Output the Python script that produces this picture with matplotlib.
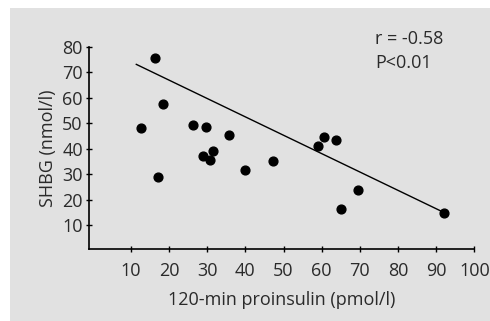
import matplotlib
matplotlib.use("Agg")
import matplotlib.pyplot as plt
from matplotlib.patches import Rectangle

# 120-min proinsulin (pmol/l) vs SHBG (nmol/l)
proinsulin = [16.2, 12.5, 18.5, 17.0, 26.2, 29.7, 28.9, 30.6, 31.6, 35.8,
              40.0, 47.2, 59.0, 60.6, 63.7, 65.0, 69.6, 92.1]
shbg = [75.8, 48.1, 57.5, 29.0, 49.3, 48.6, 37.1, 35.6, 39.3, 45.5,
        31.8, 35.1, 41.3, 44.6, 43.6, 16.3, 23.7, 15.0]

# regression line
fit_slope = -0.721
fit_intercept = 81.4
fit_x = [11.4, 92.1]

x_ticks = [10, 20, 30, 40, 50, 60, 70, 80, 90, 100]
y_ticks = [10, 20, 30, 40, 50, 60, 70, 80]

plt.rcParams["font.family"] = ["Open Sans", "DejaVu Sans"]
FS = 13
TXT = "#2a2a2a"

fig = plt.figure(figsize=(4.9, 3.21), dpi=100)
fig.patches.append(Rectangle((10 / 490, 0), 1, 1 - 8 / 321,
                             transform=fig.transFigure, facecolor="#e1e1e1",
                             edgecolor="none", zorder=-10))

ax = fig.add_axes([89 / 490, 1 - 249 / 321, (474.3 - 89) / 490, (249 - 47) / 321])
ax.set_facecolor("none")

ax.scatter(proinsulin, shbg, s=40, color="black", zorder=3)
ax.plot(fit_x, [fit_intercept + fit_slope * v for v in fit_x],
        color="black", linewidth=1.0)

ax.set_xlim(-1, 100)
ax.set_ylim(0.7, 80)
ax.set_xticks(x_ticks)
ax.set_yticks(y_ticks)

for side in ("top", "right"):
    ax.spines[side].set_visible(False)
for side in ("left", "bottom"):
    ax.spines[side].set_linewidth(1.2)

ax.tick_params(direction="inout", length=5, width=1, labelsize=FS,
               colors="black", labelcolor=TXT, pad=2)
ax.tick_params(axis="x", pad=7)

ax.set_xlabel("120-min proinsulin (pmol/l)", fontsize=FS, color=TXT,
              labelpad=8)
ax.set_ylabel("SHBG (nmol/l)", fontsize=FS, color=TXT, labelpad=4)

ax.text(375 / 490, 1 - 39 / 321, "r = -0.58", transform=fig.transFigure,
        fontsize=FS, color=TXT, va="center", ha="left")
ax.text(375 / 490, 1 - 63 / 321, "P<0.01", transform=fig.transFigure,
        fontsize=FS, color=TXT, va="center", ha="left")

fig.savefig("out.png", dpi=100)
